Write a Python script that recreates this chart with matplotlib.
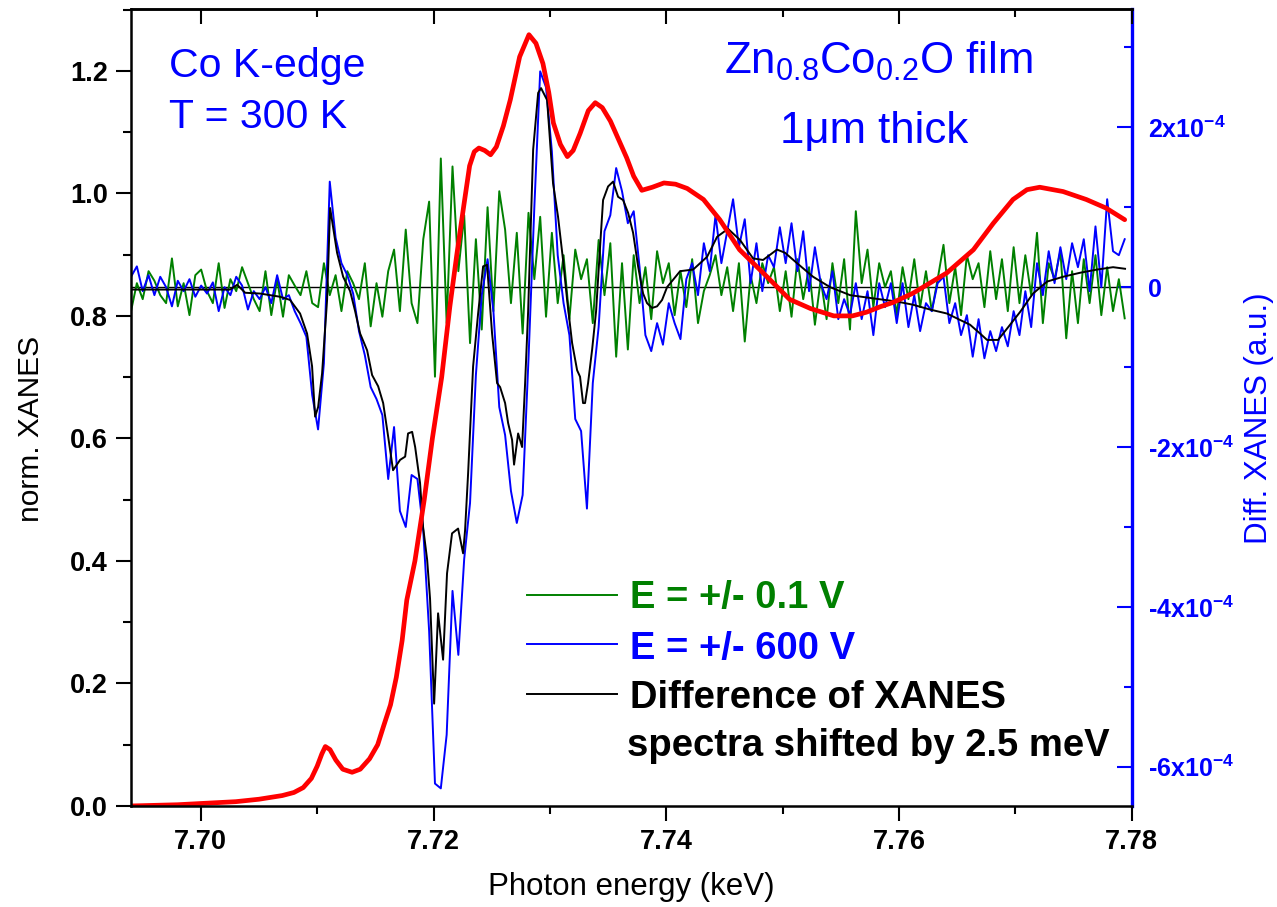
import numpy as np
import matplotlib
matplotlib.use('Agg')
import matplotlib.pyplot as plt
from matplotlib.ticker import MultipleLocator, FormatStrFormatter, FixedLocator, FixedFormatter

plt.rcParams['font.family'] = ['Liberation Sans', 'DejaVu Sans']
plt.rcParams['mathtext.default'] = 'regular'

# normalised Co K-edge XANES (left axis)
xanes_energy = [7.6940, 7.6980, 7.7000, 7.7030, 7.7050, 7.7070, 7.7080, 7.7088, 7.7095, 7.7100,
                7.7104, 7.7107, 7.7111, 7.7116, 7.7122, 7.7130, 7.7137, 7.7145, 7.7152, 7.7157,
                7.7163, 7.7168, 7.7173, 7.7177, 7.7184, 7.7192, 7.7199, 7.7207, 7.7214, 7.7220,
                7.7226, 7.7231, 7.7235, 7.7239, 7.7244, 7.7249, 7.7254, 7.7260, 7.7266, 7.7274,
                7.7282, 7.7288, 7.7294, 7.7299, 7.7303, 7.7309, 7.7315, 7.7320, 7.7326, 7.7333,
                7.7339, 7.7345, 7.7352, 7.7359, 7.7366, 7.7372, 7.7379, 7.7388, 7.7398, 7.7408,
                7.7418, 7.7432, 7.7446, 7.7463, 7.7486, 7.7506, 7.7524, 7.7544, 7.7560, 7.7572,
                7.7584, 7.7595, 7.7612, 7.7641, 7.7664, 7.7681, 7.7698, 7.7710, 7.7721, 7.7741,
                7.7761, 7.7778, 7.7794]
xanes_norm = [0.000, 0.002, 0.004, 0.007, 0.011, 0.017, 0.022, 0.030, 0.045, 0.065,
              0.085, 0.097, 0.092, 0.075, 0.060, 0.055, 0.060, 0.077, 0.100, 0.130,
              0.165, 0.210, 0.270, 0.336, 0.400, 0.500, 0.600, 0.700, 0.815, 0.900,
              0.980, 1.045, 1.068, 1.074, 1.070, 1.063, 1.076, 1.110, 1.153, 1.223,
              1.259, 1.245, 1.212, 1.165, 1.115, 1.080, 1.060, 1.070, 1.098, 1.135,
              1.148, 1.140, 1.118, 1.088, 1.058, 1.028, 1.005, 1.010, 1.017, 1.015,
              1.008, 0.990, 0.957, 0.908, 0.865, 0.827, 0.812, 0.800, 0.800, 0.806,
              0.815, 0.822, 0.837, 0.870, 0.908, 0.951, 0.990, 1.006, 1.010, 1.003,
              0.990, 0.976, 0.957]

# field-induced difference spectra, units of 1e-4, equally spaced in energy
diff_start, diff_stop = 7.694, 7.7794
diff_low_field = [
    -0.30, 0.05, -0.15, 0.20, 0.08, -0.10, -0.20, 0.36, -0.24, 0.05,
    -0.35, 0.15, 0.22, -0.05, -0.20, 0.30, -0.26, 0.10, -0.05, 0.25,
    0.05, -0.15, -0.30, 0.20, -0.35, 0.10, -0.37, 0.15, 0.02, -0.10,
    0.20, -0.20, -0.25, 0.30, -0.10, 0.15, -0.30, 0.20, 0.05, -0.15,
    0.30, -0.49, 0.05, -0.37, 0.20, 0.47, -0.30, 0.72, -0.20, -0.45,
    0.60, 1.07, -1.12, 1.61, -0.45, 1.51, 0.20, 0.90, -0.70, 0.60,
    -0.53, 1.00, -0.30, 1.20, 0.72, -0.20, 0.68, -0.58, 0.93, 0.10,
    0.88, -0.37, 0.68, -0.20, 0.40, -0.40, 0.47, 0.10, 0.35, -0.45,
    0.59, -0.10, 0.55, -0.87, 0.30, -0.78, 0.40, -0.20, 0.25, -0.40,
    0.45, 0.05, 0.30, -0.35, 0.20, -0.25, 0.35, -0.45, -0.05, 0.15,
    0.40, -0.10, 0.25, -0.30, 0.30, -0.68, 0.15, -0.20, 0.30, 0.05,
    0.25, -0.30, 0.20, -0.37, 0.35, -0.15, 0.25, -0.47, 0.10, -0.40,
    0.30, -0.20, 0.35, -0.53, 0.95, 0.05, 0.47, -0.25, 0.30, 0.00,
    0.20, -0.35, 0.25, -0.15, 0.35, -0.25, 0.20, -0.30, 0.10, 0.53,
    -0.20, 0.25, -0.35, 0.40, 0.10, 0.30, -0.25, 0.45, -0.15, 0.35,
    -0.30, 0.50, -0.20, 0.40, -0.10, 0.68, -0.45, 0.30, 0.10, 0.45,
    -0.64, 0.20, -0.45, 0.35, -0.20, 0.40, -0.35, 0.25, -0.30, 0.10,
    -0.39]
diff_high_field = [
    0.13, 0.26, -0.05, 0.15, -0.10, 0.13, 0.00, -0.24, 0.08, -0.05,
    0.10, -0.12, 0.02, -0.08, 0.06, -0.30, 0.00, -0.10, 0.13, 0.02,
    -0.28, -0.05, -0.15, 0.00, -0.20, 0.15, -0.15, -0.10, -0.30, -0.45,
    -0.62, -1.35, -1.78, -0.95, 1.32, 0.62, 0.30, 0.15, -0.08, -0.55,
    -0.85, -1.25, -1.40, -1.60, -2.40, -1.75, -2.80, -3.00, -2.35, -2.40,
    -3.05, -4.30, -6.21, -6.27, -5.60, -3.80, -4.60, -3.40, -2.70, -1.10,
    -0.10, 0.35, -0.30, -1.50, -1.85, -2.55, -2.95, -2.60, -0.90, 1.00,
    2.70, 2.50, 1.70, 0.40, -0.20, -0.60, -1.65, -1.80, -2.77, -1.20,
    -0.50, 0.70, 0.90, 1.49, 1.20, 0.80, 0.95, 0.25, -0.60, -0.80,
    -0.45, -0.72, -0.20, -0.45, -0.65, 0.10, 0.30, -0.10, 0.55, 0.20,
    0.90, 0.30, 0.70, 1.10, 0.50, 0.85, 0.05, 0.55, -0.05, 0.40,
    0.25, 0.75, 0.30, 0.80, 0.20, 0.70, -0.05, 0.50, 0.05, -0.15,
    0.20, -0.40, -0.15, -0.35, 0.05, -0.40, -0.05, -0.60, 0.05, -0.25,
    0.05, -0.45, 0.05, -0.50, -0.10, -0.55, -0.20, -0.30, 0.05, 0.13,
    -0.45, -0.20, -0.60, -0.35, -0.87, -0.40, -0.89, -0.55, -0.80, -0.50,
    -0.74, -0.30, -0.60, -0.05, -0.50, 0.30, -0.10, 0.45, 0.05, 0.50,
    0.10, 0.55, 0.25, 0.60, -0.05, 0.76, 0.00, 1.10, 0.45, 0.40,
    0.60]

# difference of two XANES spectra shifted by 2.5 meV, units of 1e-4
shift_energy = [7.69401, 7.70252, 7.70312, 7.70381, 7.70510, 7.70681, 7.70767, 7.70853, 7.70913, 7.70956,
                7.70982, 7.71008, 7.71042, 7.71085, 7.71111, 7.71171, 7.71223, 7.71283, 7.71326, 7.71369,
                7.71429, 7.71472, 7.71524, 7.71567, 7.71610, 7.71652, 7.71713, 7.71756, 7.71781, 7.71816,
                7.71842, 7.71884, 7.71910, 7.71945, 7.71970, 7.72005, 7.72039, 7.72082, 7.72116, 7.72159,
                7.72211, 7.72254, 7.72271, 7.72297, 7.72340, 7.72383, 7.72426, 7.72460, 7.72503, 7.72546,
                7.72572, 7.72615, 7.72641, 7.72675, 7.72692, 7.72727, 7.72761, 7.72787, 7.72813, 7.72856,
                7.72899, 7.72924, 7.72976, 7.73027, 7.73070, 7.73113, 7.73148, 7.73191, 7.73234, 7.73259,
                7.73285, 7.73302, 7.73328, 7.73363, 7.73397, 7.73431, 7.73457, 7.73500, 7.73543, 7.73586,
                7.73629, 7.73672, 7.73715, 7.73758, 7.73801, 7.73835, 7.73878, 7.73921, 7.73964, 7.74007,
                7.74119, 7.74231, 7.74351, 7.74437, 7.74531, 7.74634, 7.74746, 7.74832, 7.74952, 7.75021,
                7.75124, 7.75262, 7.75408, 7.75580, 7.75777, 7.75984, 7.76121, 7.76267, 7.76413, 7.76525,
                7.76611, 7.76697, 7.76757, 7.76852, 7.76955, 7.77041, 7.77152, 7.77273, 7.77410, 7.77556,
                7.77702, 7.77840, 7.77943]
shift_diff = [-0.03, -0.03, 0.03, -0.07, -0.08, -0.12, -0.16, -0.33, -0.58, -0.99,
              -1.62, -1.50, -1.08, -0.16, 0.99, 0.43, 0.13, -0.05, -0.30, -0.58,
              -0.79, -1.10, -1.24, -1.45, -1.87, -2.29, -2.16, -2.12, -1.83, -1.81,
              -2.00, -2.45, -3.00, -3.41, -3.90, -5.21, -4.08, -4.66, -3.58, -3.08,
              -3.02, -3.33, -3.04, -2.33, -0.99, -0.33, 0.26, 0.28, -0.58, -1.20,
              -1.25, -1.45, -1.70, -1.91, -2.22, -1.83, -2.00, -1.20, -0.30, 1.72,
              2.43, 2.49, 2.34, 1.30, 0.88, 0.34, -0.16, -0.70, -1.04, -1.12,
              -1.45, -1.45, -1.20, -0.78, -0.30, 0.50, 1.09, 1.26, 1.32, 1.13,
              1.09, 0.93, 0.68, 0.26, -0.08, -0.20, -0.26, -0.24, -0.16, 0.00,
              0.20, 0.22, 0.38, 0.63, 0.73, 0.59, 0.36, 0.34, 0.47, 0.43,
              0.30, 0.13, 0.00, -0.10, -0.14, -0.18, -0.22, -0.28, -0.33, -0.41,
              -0.47, -0.58, -0.66, -0.66, -0.47, -0.31, -0.08, 0.07, 0.13, 0.18,
              0.22, 0.25, 0.23]

legend_labels = ['E = +/- 0.1 V', 'E = +/- 600 V', 'Difference of XANES']
legend_colors = ['#008000', '#0000ff', 'black']

scale = 1e-4
e_low = np.linspace(diff_start, diff_stop, len(diff_low_field))
e_high = np.linspace(diff_start, diff_stop, len(diff_high_field))

fig = plt.figure(figsize=(12.77, 9.07), dpi=100)
ax = fig.add_axes([0.1026, 0.1114, 0.7836, 0.8787])
ax2 = ax.twinx()
ax.set_zorder(ax2.get_zorder() + 1)
ax.patch.set_visible(False)

# difference spectra on the right axis
ax2.axhline(0, color='black', lw=1.0, zorder=1)
ax2.plot(e_low, np.array(diff_low_field) * scale, color='#008000', lw=1.4)
ax2.plot(e_high, np.array(diff_high_field) * scale, color='#0000ff', lw=1.4)
ax2.plot(shift_energy, np.array(shift_diff) * scale, color='black', lw=1.4)

# XANES on the left axis
ax.plot(xanes_energy, xanes_norm, color='#ff0000', lw=3.4, solid_capstyle='round')

ax.set_xlim(7.694, 7.78)
ax.set_ylim(0, 1.301)
ax2.set_ylim(-6.49e-4, 3.48e-4)

ax.xaxis.set_major_locator(MultipleLocator(0.02))
ax.xaxis.set_minor_locator(MultipleLocator(0.01))
ax.xaxis.set_major_formatter(FormatStrFormatter('%.2f'))
ax.yaxis.set_major_locator(MultipleLocator(0.2))
ax.yaxis.set_minor_locator(MultipleLocator(0.1))
ax.yaxis.set_major_formatter(FormatStrFormatter('%.1f'))
ax.tick_params(which='major', direction='out', length=10.5, width=1.5, pad=6,
               labelsize=19.5)
ax.tick_params(which='minor', direction='out', length=5.5, width=1.5)
for lab in ax.get_xticklabels() + ax.get_yticklabels():
    lab.set_fontweight('bold')

ax2.yaxis.set_major_locator(FixedLocator([-6e-4, -4e-4, -2e-4, 0, 2e-4]))
ax2.yaxis.set_major_formatter(FixedFormatter(
    ['-6x10$^{-4}$', '-4x10$^{-4}$', '-2x10$^{-4}$', '0', '2x10$^{-4}$']))
ax2.yaxis.set_minor_locator(MultipleLocator(1e-4))
ax2.tick_params(axis='y', which='major', direction='in', length=10.5, width=1.5,
                pad=12, colors='#0000ff', labelsize=18)
ax2.tick_params(axis='y', which='minor', direction='in', length=5.5, width=1.5,
                colors='#0000ff')
for lab in ax2.get_yticklabels():
    lab.set_fontweight('bold')

# top axis with inward ticks, no labels
top = ax.secondary_xaxis('top')
top.xaxis.set_major_locator(MultipleLocator(0.02))
top.xaxis.set_minor_locator(MultipleLocator(0.01))
top.tick_params(which='major', direction='in', length=10.5, width=1.5, labeltop=False)
top.tick_params(which='minor', direction='in', length=5.5, width=1.5)
top.spines['top'].set_linewidth(1.8)

for side in ['left', 'bottom', 'top']:
    ax.spines[side].set_linewidth(1.8)
ax.spines['right'].set_visible(False)
for side in ['left', 'bottom', 'top']:
    ax2.spines[side].set_visible(False)
ax2.spines['right'].set_color('#0000ff')
ax2.spines['right'].set_linewidth(2.4)

ax.set_xlabel('Photon energy (keV)', fontsize=22.5)
ax.xaxis.set_label_coords(0.5, -0.083)
ax.set_ylabel('norm. XANES', fontsize=21.5)
ax.yaxis.set_label_coords(-0.086, 0.473)
ax2.set_ylabel('Diff. XANES (a.u.)', fontsize=22.5, color='#0000ff')
ax2.yaxis.set_label_coords(1.112, 0.486)

# annotations
W, H = 1277.0, 907.0
fig.text(169 / W, 1 - 77 / H, 'Co K-edge', fontsize=29.5, color='#0000ff', va='baseline')
fig.text(169 / W, 1 - 128 / H, 'T = 300 K', fontsize=29.5, color='#0000ff', va='baseline')
fig.text(878 / W, 1 - 74 / H, 'Zn$_{0.8}$Co$_{0.2}$O film', fontsize=31.5, color='#0000ff',
         ha='center', va='baseline')
fig.text(874 / W, 1 - 143 / H, '1\u03bcm thick', fontsize=31.5, color='#0000ff',
         ha='center', va='baseline')

# legend drawn by hand so the last entry can span two lines
handle_y = [594.7, 644.3, 694.3]
text_base = [608, 659, 708]
for lab, col, hy, ty in zip(legend_labels, legend_colors, handle_y, text_base):
    fig.add_artist(plt.Line2D([527 / W, 617 / W], [1 - hy / H, 1 - hy / H],
                              color=col, lw=1.4))
    fig.text(630 / W, 1 - ty / H, lab, fontsize=27.5, fontweight='bold', color=col,
             va='baseline')
fig.text(627 / W, 1 - 756 / H, 'spectra shifted by 2.5 meV', fontsize=27.5,
         fontweight='bold', color='black', va='baseline')

fig.savefig('out.png', dpi=100)
